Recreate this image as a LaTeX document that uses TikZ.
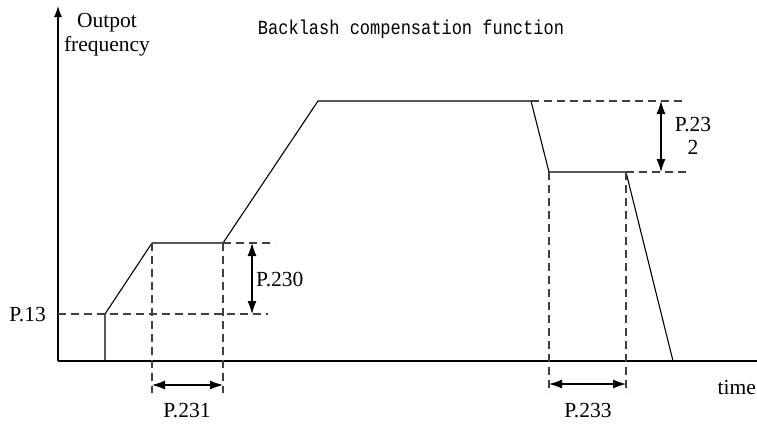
\documentclass[tikz,border=0pt]{standalone}
\usepackage{fontspec}
\setmainfont{Liberation Serif}
\newfontfamily\titlefont{Liberation Mono}
\usetikzlibrary{arrows.meta}
\tikzset{
  curve/.style={line width=1.1pt,black},
  guide/.style={line width=1.1pt,dash pattern=on 8pt off 5pt,black!75},
  dim/.style={line width=1.1pt,{Latex[length=13pt,width=9pt]}-{Latex[length=13pt,width=9pt]}},
  lbl/.style={font=\fontsize{21.5}{23}\selectfont,inner sep=0pt},
}
\begin{document}
\begin{tikzpicture}[x=1pt,y=-1pt]
\useasboundingbox (0,0) rectangle (757,424);
% axes
\coordinate (O) at (58,361);
\coordinate (ytop) at (58,6);
\coordinate (xend) at (760,361);
\draw[line width=1.1pt,-{Latex[length=11pt,width=8pt]}] (O) -- (ytop);
\draw[line width=1.1pt] (O) -- (xend);
% curve points
\coordinate (c0) at (105,361);
\coordinate (c1) at (105,314);
\coordinate (c2) at (152,243);
\coordinate (c3) at (223,243);
\coordinate (c4) at (318,101);
\coordinate (c5) at (531,101);
\coordinate (c6) at (549,172);
\coordinate (c7) at (626,172);
\coordinate (c8) at (673,361);
\draw[curve,line join=miter] (c0) -- (c1) -- (c2) -- (c3) -- (c4) -- (c5) -- (c6) -- (c7) -- (c8);
% guides
\coordinate (g13a) at (58,314);
\coordinate (g13b) at (268,314);
\draw[guide] (g13a) -- (g13b);
\coordinate (g230) at (275,243);
\draw[guide] (c3) -- (g230);
\coordinate (v1) at (152,393);
\coordinate (v2) at (223,393);
\draw[guide] (c2) -- (v1);
\draw[guide] (c3) -- (v2);
\coordinate (gtop) at (686,101);
\coordinate (gmid) at (686,172);
\draw[guide] (c5) -- (gtop);
\draw[guide] (c7) -- (gmid);
\coordinate (v3) at (549,393);
\coordinate (v4) at (626,393);
\draw[guide] (c6) -- (v3);
\draw[guide] (c7) -- (v4);
% dimension arrows
\coordinate (a230t) at (252,243);
\coordinate (a230b) at (252,314);
\draw[dim] (a230t) -- (a230b);
\coordinate (a231l) at (152,385);
\coordinate (a231r) at (223,385);
\draw[dim] (a231l) -- (a231r);
\coordinate (a232t) at (661,101);
\coordinate (a232b) at (661,172);
\draw[dim] (a232t) -- (a232b);
\coordinate (a233l) at (549,384);
\coordinate (a233r) at (626,384);
\draw[dim] (a233l) -- (a233r);
% labels
\node[lbl,anchor=west] (t230) at (256,279) {P.230};
\node[lbl] (t231) at (187,411) {P.231};
\node[lbl,align=center] (t232) at (693,136) {P.23\\2};
\node[lbl] (t233) at (588,411) {P.233};
\node[lbl,anchor=east] (t13) at (46,315) {P.13};
\node[lbl,anchor=east] (ttime) at (756,387) {time};
\node[lbl,align=center] (tyl) at (107,35) {Outpot\\[1pt]frequency};
\node[inner sep=0pt] (title) at (411,29) {\titlefont\scalebox{0.85}[1]{\fontsize{20}{22}\selectfont Backlash compensation function}};
\end{tikzpicture}
\end{document}
